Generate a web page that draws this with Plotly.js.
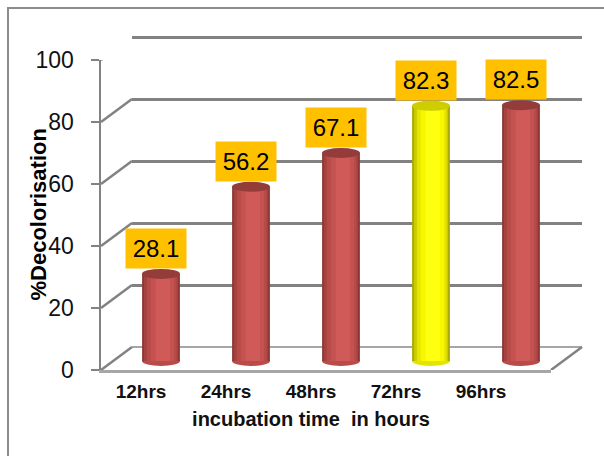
<!DOCTYPE html>
<html>
<head>
<meta charset="utf-8">
<script src="https://cdn.plot.ly/plotly-3.0.1.min.js"></script>
<style>
  html, body { margin: 0; padding: 0; background: #ffffff; }
  #chart { width: 604px; height: 456px; }
</style>
</head>
<body>
<div id="chart"></div>
<script>
// Incubation time vs. % decolorisation
const categories = ['12hrs', '24hrs', '48hrs', '72hrs', '96hrs'];
const decolorisation = [28.1, 56.2, 67.1, 82.3, 82.5];
const yTicks = [0, 20, 40, 60, 80, 100];
const highlighted = '72hrs';

// ---- pseudo-3D frame geometry (pixels) ----
const W = 604, H = 456;
const UNIT = 3.1;                 // pixels per percent
const DEPTH_X = 31, DEPTH_Y = 23; // front -> back wall offset
const FRONT = { left: 101, right: 551, zero: 370 };
const BACK = { left: FRONT.left + DEPTH_X, right: FRONT.right + DEPTH_X, zero: FRONT.zero - DEPTH_Y };
const MID_ZERO = 361;             // floor line under the cylinders
const BAR_AXIS = { left: 116, right: 566 };
const LABEL_AXIS = { left: 98.5, right: 523.5 };

const px = x => x / W;
const py = y => 1 - y / H;
const yDomain = (zeroPx, r) => [py(zeroPx - r[0] * UNIT), py(zeroPx - r[1] * UNIT)];

const FONT = 'Liberation Sans, Arial, sans-serif';
const GRID = '#828282';
const FLOOR = '#a6a6a6';

// cylinder shading: outer -> inner bands
const bands = [
  { w: 0.42, shift: 0.000, red: '#8C3836', yel: '#A9A900' },
  { w: 0.38, shift: 0.000, red: '#A44240', yel: '#CACA00' },
  { w: 0.33, shift: 0.008, red: '#B84A48', yel: '#E6E600' },
  { w: 0.26, shift: 0.015, red: '#C45250', yel: '#F7F700' },
  { w: 0.16, shift: 0.020, red: '#CF5A58', yel: '#FFFF10' }
];
const isHi = categories.map(c => c === highlighted);

const traces = [];
// back wall grid subplot
traces.push({ type: 'scatter', x: [], y: [], xaxis: 'x', yaxis: 'y', hoverinfo: 'skip', showlegend: false });
// cylinders
bands.forEach(b => {
  traces.push({
    type: 'bar', x: categories, y: decolorisation, xaxis: 'x2', yaxis: 'y2',
    width: b.w, offset: -b.w / 2 + b.shift,
    marker: { color: isHi.map(h => h ? b.yel : b.red), line: { width: 0 } },
    hoverinfo: 'skip', showlegend: false
  });
});
// front axis & label axis
traces.push({ type: 'scatter', x: [], y: [], xaxis: 'x3', yaxis: 'y3', hoverinfo: 'skip', showlegend: false });
traces.push({ type: 'scatter', x: [], y: [], xaxis: 'x4', yaxis: 'y3', hoverinfo: 'skip', showlegend: false });

const gridRange = [-2, 110];
const barRange = [-5, 110];
const frontRange = [0, 100];

const shapes = [];
// outer frame of the chart area
shapes.push({ type: 'line', xref: 'paper', yref: 'paper', x0: px(8), x1: px(8), y0: py(470), y1: py(8), line: { color: '#8c8c8c', width: 2 } });
shapes.push({ type: 'line', xref: 'paper', yref: 'paper', x0: px(7), x1: px(620), y0: py(8), y1: py(8), line: { color: '#8c8c8c', width: 2 } });
// side-wall diagonals from each front tick to the back wall
yTicks.forEach(v => {
  shapes.push({
    type: 'line', xref: 'x3 domain', yref: 'y3',
    xsizemode: 'pixel', xanchor: 0, x0: 0, x1: DEPTH_X,
    ysizemode: 'pixel', yanchor: v, y0: 0, y1: DEPTH_Y,
    line: { color: GRID, width: 2.5 }, layer: 'above'
  });
});
// right floor edge
shapes.push({
  type: 'line', xref: 'x3 domain', yref: 'y3',
  xsizemode: 'pixel', xanchor: 1, x0: 0, x1: DEPTH_X,
  ysizemode: 'pixel', yanchor: 0, y0: 0, y1: DEPTH_Y,
  line: { color: GRID, width: 2.5 }, layer: 'above'
});
// cylinder caps
categories.forEach((c, i) => {
  shapes.push({
    type: 'circle', xref: 'x2', yref: 'y2',
    xsizemode: 'pixel', xanchor: i, x0: -19, x1: 19,
    ysizemode: 'pixel', yanchor: 0, y0: -5, y1: 5,
    fillcolor: isHi[i] ? '#E4E400' : '#B94B49', line: { width: 0 }, layer: 'between'
  });
  shapes.push({
    type: 'circle', xref: 'x2', yref: 'y2',
    xsizemode: 'pixel', xanchor: i, x0: -19, x1: 19,
    ysizemode: 'pixel', yanchor: decolorisation[i], y0: -5, y1: 5,
    fillcolor: isHi[i] ? '#CDCD00' : '#933C3A', line: { width: 0 }, layer: 'above'
  });
});

const annotations = categories.map((c, i) => ({
  x: i, xref: 'x2', y: decolorisation[i], yref: 'y2',
  text: decolorisation[i].toFixed(1), showarrow: false,
  xanchor: 'center', yanchor: 'bottom', xshift: -5, yshift: 5,
  bgcolor: '#FFC000', borderpad: 4, width: 52, height: 31,
  font: { family: FONT, size: 24, color: '#000000' }
}));
annotations.push({
  text: '%Decolorisation', textangle: -90, showarrow: false,
  xref: 'paper', yref: 'paper', x: px(37.5), y: py(215),
  xanchor: 'center', yanchor: 'middle',
  font: { family: FONT, size: 22, color: '#000000', weight: 'bold' }
});

const hidden = { showgrid: false, zeroline: false, showline: false, showticklabels: false, ticks: '', fixedrange: true };

const layout = {
  width: W, height: H,
  margin: { l: 0, r: 0, t: 0, b: 0 },
  paper_bgcolor: '#ffffff', plot_bgcolor: 'rgba(0,0,0,0)',
  showlegend: false, barmode: 'overlay',
  font: { family: FONT, color: '#000000' },
  xaxis: Object.assign({}, hidden, { domain: [px(BACK.left), px(BACK.right)], range: [0, 1], anchor: 'y' }),
  yaxis: Object.assign({}, hidden, {
    domain: yDomain(BACK.zero, gridRange), range: gridRange, anchor: 'x',
    showgrid: true, tickvals: yTicks, gridcolor: GRID, gridwidth: 3,
    zeroline: true, zerolinecolor: FLOOR, zerolinewidth: 2.5
  }),
  xaxis2: Object.assign({}, hidden, { domain: [px(BAR_AXIS.left), px(BAR_AXIS.right)], type: 'category', range: [-0.5, 4.5], anchor: 'y2' }),
  yaxis2: Object.assign({}, hidden, { domain: yDomain(MID_ZERO, barRange), range: barRange, anchor: 'x2' }),
  xaxis3: Object.assign({}, hidden, {
    domain: [px(FRONT.left), px(FRONT.right)], range: [0, 1], anchor: 'y3',
    showline: true, linecolor: FLOOR, linewidth: 2.5
  }),
  yaxis3: {
    domain: yDomain(FRONT.zero, frontRange), range: frontRange, anchor: 'x3',
    showgrid: false, zeroline: false, fixedrange: true,
    showline: true, linecolor: GRID, linewidth: 2.5,
    tickvals: yTicks, ticks: 'outside', ticklen: 8, tickwidth: 2.5, tickcolor: GRID,
    ticklabelstandoff: 12,
    tickfont: { family: FONT, size: 23, color: '#111111' }
  },
  xaxis4: {
    domain: [px(LABEL_AXIS.left), px(LABEL_AXIS.right)], range: [-0.5, 4.5],
    anchor: 'free', position: py(FRONT.zero + 2), side: 'bottom',
    showgrid: false, zeroline: false, showline: false, ticks: '', fixedrange: true,
    tickvals: categories.map((c, i) => i), ticktext: categories,
    ticklabelstandoff: 6,
    tickfont: { family: FONT, size: 19, color: '#111111', weight: 'bold' },
    title: { text: 'incubation time\u00a0 in hours', standoff: 10,
             font: { family: FONT, size: 20, color: '#111111', weight: 'bold' } }
  },
  shapes: shapes,
  annotations: annotations
};

Plotly.newPlot('chart', traces, layout, { staticPlot: true, displayModeBar: false });
</script>
</body>
</html>
